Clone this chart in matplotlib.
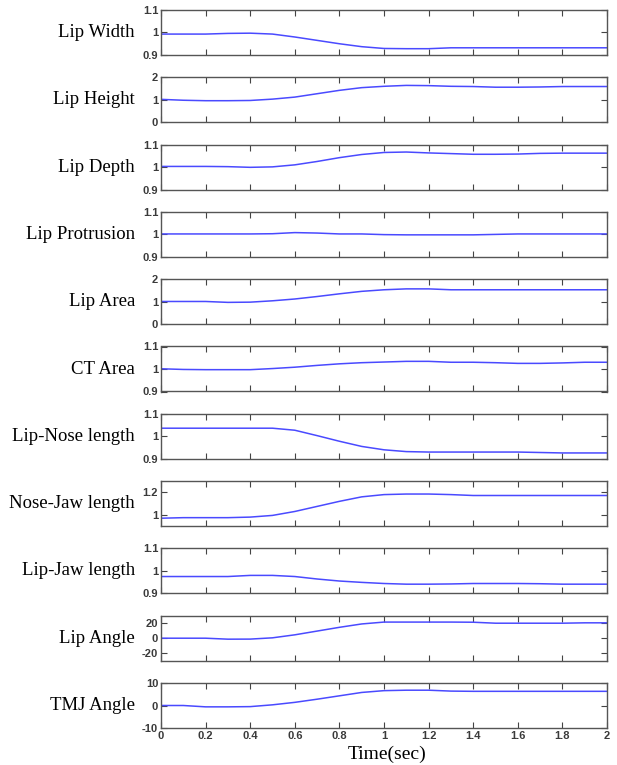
import numpy as np
import matplotlib.pyplot as plt

# time axis (sec)
t = [0.0, 0.1, 0.2, 0.3, 0.4, 0.5, 0.6, 0.7, 0.8, 0.9, 1.0,
     1.1, 1.2, 1.3, 1.4, 1.5, 1.6, 1.7, 1.8, 1.9, 2.0]

lip_width = [0.993, 0.993, 0.993, 0.996, 0.997, 0.993, 0.980, 0.965, 0.950, 0.937, 0.929,
             0.928, 0.928, 0.932, 0.932, 0.932, 0.932, 0.932, 0.932, 0.932, 0.932]
lip_height = [1.02, 0.98, 0.96, 0.96, 0.97, 1.03, 1.12, 1.27, 1.42, 1.54, 1.60,
              1.64, 1.63, 1.60, 1.59, 1.56, 1.56, 1.57, 1.59, 1.59, 1.59]
lip_depth = [1.003, 1.003, 1.003, 1.002, 0.999, 1.001, 1.010, 1.025, 1.042, 1.056, 1.065,
             1.067, 1.063, 1.060, 1.057, 1.057, 1.058, 1.061, 1.062, 1.062, 1.062]
lip_protrusion = [1.002, 1.002, 1.002, 1.002, 1.002, 1.003, 1.008, 1.006, 1.002, 1.002, 0.999,
                  0.998, 0.998, 0.998, 0.998, 1.000, 1.002, 1.002, 1.002, 1.002, 1.002]
lip_area = [1.01, 1.01, 1.01, 0.97, 0.98, 1.04, 1.12, 1.23, 1.35, 1.46, 1.53,
            1.57, 1.57, 1.53, 1.53, 1.53, 1.53, 1.53, 1.53, 1.53, 1.53]
ct_area = [1.001, 0.998, 0.997, 0.997, 0.997, 1.002, 1.008, 1.016, 1.023, 1.028, 1.031,
           1.034, 1.034, 1.030, 1.030, 1.028, 1.025, 1.025, 1.027, 1.030, 1.030]
lip_nose = [1.036, 1.036, 1.036, 1.036, 1.036, 1.036, 1.027, 1.003, 0.978, 0.955, 0.940,
            0.932, 0.930, 0.930, 0.930, 0.930, 0.930, 0.928, 0.926, 0.926, 0.926]
nose_jaw = [0.97, 0.975, 0.975, 0.975, 0.98, 0.995, 1.03, 1.075, 1.12, 1.16, 1.18,
            1.185, 1.185, 1.18, 1.172, 1.172, 1.172, 1.172, 1.172, 1.172, 1.172]
lip_jaw = [0.975, 0.975, 0.975, 0.975, 0.980, 0.980, 0.975, 0.964, 0.955, 0.949, 0.944,
           0.941, 0.941, 0.942, 0.944, 0.944, 0.944, 0.943, 0.941, 0.941, 0.941]
lip_angle = [0, 0, 0, -1.3, -1.2, 0.5, 4.5, 9.5, 14.5, 19, 21.5,
             21.5, 21.5, 21.5, 21.3, 20, 20, 20, 20, 20.5, 20.5]
tmj_angle = [0, 0, -0.6, -0.6, -0.5, 0.3, 1.4, 2.8, 4.3, 5.8, 6.6,
             6.8, 6.8, 6.4, 6.3, 6.3, 6.3, 6.3, 6.3, 6.3, 6.3]

names = ["Lip Width", "Lip Height", "Lip Depth", "Lip Protrusion", "Lip Area",
         "CT Area", "Lip-Nose length", "Nose-Jaw length", "Lip-Jaw length",
         "Lip Angle", "TMJ Angle"]
series = [lip_width, lip_height, lip_depth, lip_protrusion, lip_area,
          ct_area, lip_nose, nose_jaw, lip_jaw, lip_angle, tmj_angle]
ylims = [(0.9, 1.1), (0, 2), (0.9, 1.1), (0.9, 1.1), (0, 2),
         (0.9, 1.1), (0.9, 1.1), (0.9, 1.3), (0.9, 1.1), (-30, 30), (-10, 10)]
yticks = [[0.9, 1, 1.1], [0, 1, 2], [0.9, 1, 1.1], [0.9, 1, 1.1], [0, 1, 2],
          [0.9, 1, 1.1], [0.9, 1, 1.1], [1, 1.2], [0.9, 1, 1.1], [-20, 0, 20], [-10, 0, 10]]
ylabels = [["0.9", "1", "1.1"], ["0", "1", "2"], ["0.9", "1", "1.1"], ["0.9", "1", "1.1"],
           ["0", "1", "2"], ["0.9", "1", "1.1"], ["0.9", "1", "1.1"], ["1", "1.2"],
           ["0.9", "1", "1.1"], ["-20", "0", "20"], ["-10", "0", "10"]]

W, H = 617, 765
fig = plt.figure(figsize=(W / 100, H / 100), dpi=100)

left = 161 / W
width = 446 / W
step = 67.3
ax_h = 45
xt = np.arange(0, 2.01, 0.2)
xlab = ["0", "0.2", "0.4", "0.6", "0.8", "1", "1.2", "1.4", "1.6", "1.8", "2"]
tick_font = dict(family="Liberation Sans", size=8, weight="bold", color="#3a3a3a")

for i in range(len(names)):
    top = 10 + step * i
    ax = fig.add_axes([left, 1 - (top + ax_h) / H, width, ax_h / H])
    ax.plot(t, series[i], color="#4a4aff", lw=1.1)
    ax.set_xlim(0, 2)
    ax.set_ylim(*ylims[i])
    ax.set_xticks(xt)
    ax.set_yticks(yticks[i])
    ax.set_yticklabels(ylabels[i], fontdict=tick_font)
    if i == len(names) - 1:
        ax.set_xticklabels(xlab, fontdict=tick_font)
    else:
        ax.set_xticklabels([])
    ax.tick_params(direction="in", top=True, right=True, length=4, width=0.8,
                   color="#444444", pad=2)
    for s in ax.spines.values():
        s.set_color("#555555")
        s.set_linewidth(1.0)
    fig.text(135 / W, 1 - (top + ax_h / 2) / H, names[i], ha="right", va="center",
             family="Liberation Serif", fontsize=13.5)

fig.text(387 / W, 1 - 754 / H, "Time(sec)", ha="center", va="center",
         family="Liberation Serif", fontsize=14)

fig.savefig("out.png", dpi=100)
